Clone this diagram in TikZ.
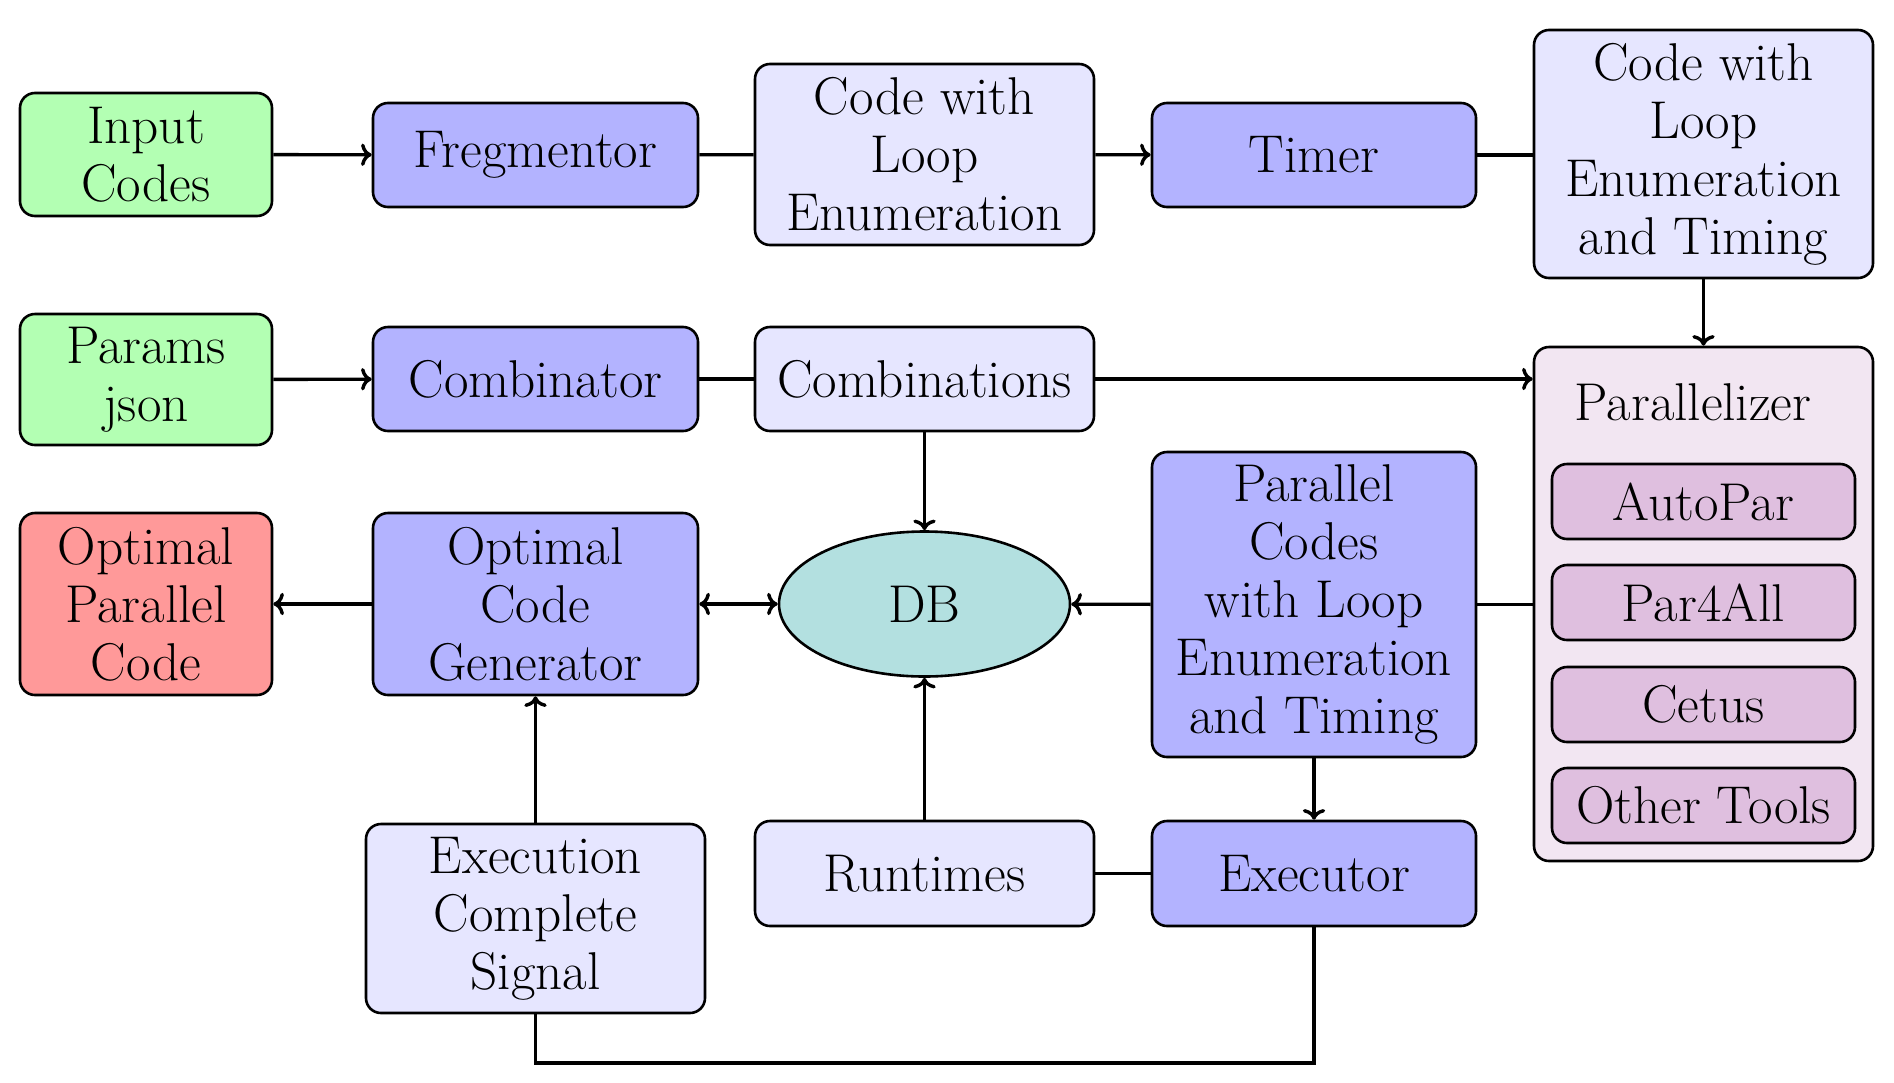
\documentclass[tikz,border=0pt]{standalone}
\usetikzlibrary{shapes.geometric,arrows.meta}
\definecolor{cgreen}{RGB}{179,255,179}
\definecolor{cblue}{RGB}{179,179,255}
\definecolor{clight}{RGB}{230,230,255}
\definecolor{cred}{RGB}{255,153,153}
\definecolor{cteal}{RGB}{179,224,224}
\definecolor{cviobg}{RGB}{242,230,242}
\definecolor{cvio}{RGB}{223,191,223}
\tikzset{
  box/.style={draw, rounded corners=7.5pt, line width=1.3pt, inner sep=0pt, align=center,
    font=\fontsize{26.6}{29}\selectfont},
  gbox/.style={box, fill=cgreen},
  bbox/.style={box, fill=cblue},
  lbox/.style={box, fill=clight},
  rbox/.style={box, fill=cred},
  vbox/.style={box, fill=cvio, minimum width=151.5pt, minimum height=37.5pt},
  conn/.style={line width=1.7pt},
  arr/.style={conn, ->},
}
\begin{document}
\begin{tikzpicture}[x=0.5pt,y=-0.5pt]
\useasboundingbox (0,0) rectangle (1894,1082);
% column 1
\node[gbox, minimum width=126pt, minimum height=61.5pt] (inc) at (146,154.5) {Input\\Codes};
\node[gbox, minimum width=126pt, minimum height=65.5pt] (par) at (146,379.5) {Params\\json};
\node[rbox, minimum width=126pt, minimum height=91pt] (opt) at (146,604) {Optimal\\Parallel\\Code};
% column 2
\node[bbox, minimum width=162.5pt, minimum height=52pt] (frag) at (535.5,155) {Fregmentor};
\node[bbox, minimum width=162.5pt, minimum height=52pt] (comb) at (535.5,379) {Combinator};
\node[bbox, minimum width=162.5pt, minimum height=91pt] (ocg) at (535.5,604) {Optimal\\Code\\Generator};
\node[lbox, minimum width=169.5pt, minimum height=94.5pt] (ecs) at (535.5,918.5) {Execution\\Complete\\Signal};
% column 3
\node[lbox, minimum width=169.5pt, minimum height=90.5pt] (cle) at (924.5,154.5) {Code with\\Loop\\Enumeration};
\node[lbox, minimum width=169.5pt, minimum height=52pt] (combs) at (924.5,379) {Combinations};
\node[draw, ellipse, fill=cteal, line width=1.3pt, inner sep=0pt, minimum width=145.5pt, minimum height=72.5pt,
  font=\fontsize{26.6}{29}\selectfont] (db) at (924.5,604) {DB};
\node[lbox, minimum width=169.5pt, minimum height=52.5pt] (rt) at (924.5,873.5) {Runtimes};
% column 4
\node[bbox, minimum width=162pt, minimum height=52pt] (timer) at (1314,155) {Timer};
\node[bbox, minimum width=162pt, minimum height=152.5pt] (pc) at (1314,604.5) {Parallel\\Codes\\with Loop\\Enumeration\\and Timing};
\node[bbox, minimum width=162pt, minimum height=52.5pt] (exe) at (1314,873.5) {Executor};
% column 5
\node[lbox, minimum width=169.5pt, minimum height=124pt] (clt) at (1703.5,154) {Code with\\Loop\\Enumeration\\and Timing};
\node[box, fill=cviobg, minimum width=169.5pt, minimum height=257pt] (para) at (1703.5,604) {};
\node[font=\fontsize{26.6}{29}\selectfont, inner sep=0pt] (paral) at (1693,402) {Parallelizer};
\node[vbox] (autopar) at (1703.5,501.5) {AutoPar};
\node[vbox] (par4all) at (1703.5,602.5) {Par4All};
\node[vbox] (cetus) at (1703.5,704.5) {Cetus};
\node[vbox] (other) at (1703.5,805.5) {Other Tools};
% connectors
\draw[arr] (inc) -- (frag);
\draw[conn] (frag) -- (cle);
\draw[arr] (cle) -- (timer);
\draw[conn] (timer) -- (timer -| clt.west);
\draw[arr] (clt) -- (para);
\draw[arr] (par) -- (comb);
\draw[conn] (comb) -- (combs);
\draw[arr] (combs.east) -- (combs.east -| para.west);
\draw[arr] (combs) -- (db);
\draw[conn] (pc.east -| para.west) -- (pc.east);
\draw[arr] (pc) -- (db);
\draw[arr, <->] (ocg) -- (db);
\draw[arr] (ocg) -- (opt);
\draw[arr] (ecs) -- (ocg);
\draw[arr] (rt) -- (db);
\draw[conn] (exe) -- (rt);
\draw[arr] (pc) -- (exe);
\coordinate (b1) at (1314,1063);
\draw[conn] (exe.south) -- (b1) -| (ecs.south);
\end{tikzpicture}
\end{document}
